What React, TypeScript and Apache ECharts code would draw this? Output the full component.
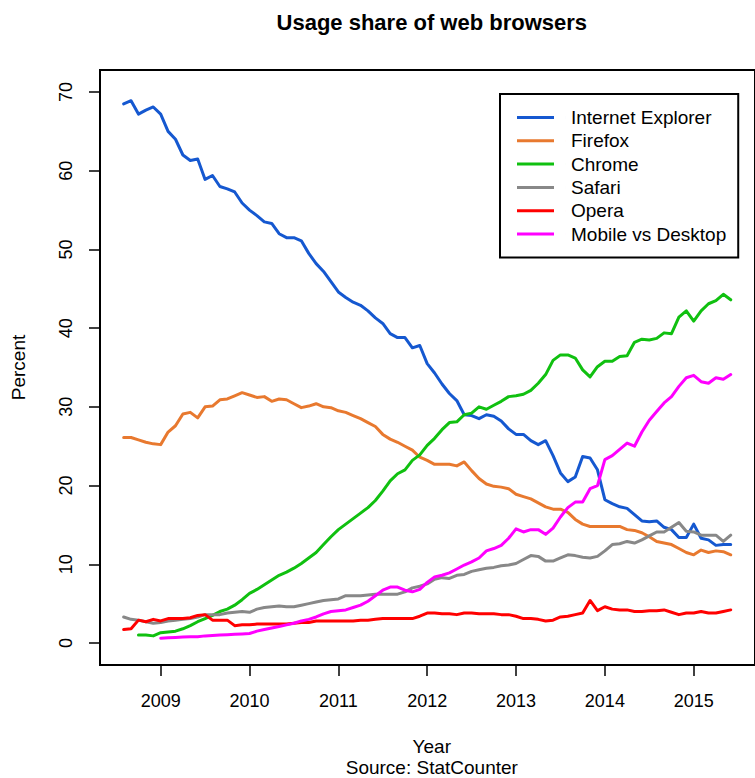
import React, { useEffect, useRef } from "react";
import * as echarts from "echarts";

// Monthly values, first point = July 2008
const startYear = 2008 + 7 / 12;
const yearTicks = [2009, 2010, 2011, 2012, 2013, 2014, 2015];
const percentTicks = [0, 10, 20, 30, 40, 50, 60, 70];

const seriesNames = ["Internet Explorer", "Firefox", "Chrome", "Safari", "Opera", "Mobile vs Desktop"];
const seriesColors = ["#1558d0", "#e8792f", "#10c010", "#888888", "#ff0000", "#ff00ff"];

const ie = [
  68.5, 68.9, 67.2, 67.7, 68.1, 67.2, 65.0, 64.0, 62.0, 61.3, 61.5, 58.9, 59.4, 58.0, 57.7, 57.3,
  55.9, 55.0, 54.3, 53.5, 53.3, 52.0, 51.5, 51.5, 51.1, 49.5, 48.2, 47.2, 45.9, 44.6, 43.9, 43.3,
  42.9, 42.2, 41.3, 40.6, 39.3, 38.8, 38.8, 37.5, 37.8, 35.5, 34.3, 32.9, 31.7, 30.8, 29.0, 28.9,
  28.5, 29.0, 28.8, 28.2, 27.2, 26.5, 26.5, 25.7, 25.2, 25.7, 23.8, 21.6, 20.5, 21.1, 23.7, 23.5,
  22.0, 18.2, 17.7, 17.3, 17.1, 16.3, 15.5, 15.4, 15.5, 14.7, 14.4, 13.4, 13.4, 15.1, 13.3, 13.1,
  12.4, 12.5, 12.5,
];
const firefox = [
  26.1, 26.1, 25.8, 25.5, 25.3, 25.2, 26.8, 27.6, 29.1, 29.3, 28.6, 30.0, 30.1, 30.9, 31.0, 31.4,
  31.8, 31.5, 31.2, 31.3, 30.7, 31.0, 30.9, 30.4, 29.9, 30.1, 30.4, 30.0, 29.9, 29.5, 29.3, 28.9,
  28.5, 28.0, 27.5, 26.5, 25.9, 25.5, 25.0, 24.5, 23.6, 23.2, 22.7, 22.7, 22.7, 22.5, 23.0, 21.9,
  20.9, 20.2, 19.9, 19.8, 19.6, 18.9, 18.6, 18.3, 17.8, 17.3, 17.0, 17.0, 16.6, 15.7, 15.1, 14.8,
  14.8, 14.8, 14.8, 14.8, 14.4, 14.3, 14.0, 13.5, 12.9, 12.7, 12.5, 12.0, 11.5, 11.2, 11.8, 11.5,
  11.7, 11.6, 11.2,
];
// Chrome starts at month index 2 (September 2008)
const chromeStart = 2;
const chrome = [
  1.0, 1.0, 0.9, 1.3, 1.4, 1.5, 1.8, 2.2, 2.7, 3.1, 3.5, 4.0, 4.3, 4.8, 5.5, 6.3,
  6.8, 7.4, 8.0, 8.6, 9.0, 9.5, 10.1, 10.8, 11.5, 12.5, 13.5, 14.4, 15.1, 15.8, 16.5, 17.2,
  18.1, 19.3, 20.6, 21.5, 22.0, 23.2, 23.9, 25.1, 26.0, 27.1, 28.0, 28.1, 29.0, 29.2, 30.0, 29.7,
  30.2, 30.7, 31.3, 31.4, 31.6, 32.1, 33.0, 34.1, 35.9, 36.6, 36.6, 36.2, 34.7, 33.8, 35.1, 35.8,
  35.8, 36.4, 36.5, 38.2, 38.6, 38.5, 38.7, 39.4, 39.3, 41.4, 42.2, 40.9, 42.2, 43.1, 43.5, 44.3,
  43.6,
];
const safari = [
  3.3, 3.0, 2.9, 2.7, 2.5, 2.6, 2.8, 2.9, 3.0, 3.1, 3.3, 3.6, 3.6, 3.6, 3.8, 3.9,
  4.0, 3.9, 4.3, 4.5, 4.6, 4.7, 4.6, 4.6, 4.8, 5.0, 5.2, 5.4, 5.5, 5.6, 6.0, 6.0,
  6.0, 6.1, 6.2, 6.2, 6.2, 6.2, 6.5, 7.0, 7.2, 7.5, 8.1, 8.3, 8.2, 8.6, 8.7, 9.1,
  9.3, 9.5, 9.6, 9.8, 9.9, 10.1, 10.6, 11.1, 11.0, 10.4, 10.4, 10.8, 11.2, 11.1, 10.9, 10.8,
  11.0, 11.7, 12.5, 12.6, 12.9, 12.7, 13.1, 13.6, 14.1, 14.1, 14.7, 15.3, 14.2, 14.1, 13.7, 13.7,
  13.7, 12.9, 13.7,
];
const opera = [
  1.7, 1.8, 2.9, 2.7, 3.0, 2.8, 3.1, 3.1, 3.1, 3.2, 3.5, 3.6, 2.9, 2.9, 2.9, 2.2,
  2.3, 2.3, 2.4, 2.4, 2.4, 2.4, 2.4, 2.5, 2.6, 2.6, 2.8, 2.8, 2.8, 2.8, 2.8, 2.8,
  2.9, 2.9, 3.0, 3.1, 3.1, 3.1, 3.1, 3.1, 3.4, 3.8, 3.8, 3.7, 3.7, 3.6, 3.8, 3.8,
  3.7, 3.7, 3.7, 3.6, 3.6, 3.4, 3.1, 3.1, 3.0, 2.8, 2.9, 3.3, 3.4, 3.6, 3.8, 5.4,
  4.1, 4.6, 4.3, 4.2, 4.2, 4.0, 4.0, 4.1, 4.1, 4.2, 3.9, 3.6, 3.8, 3.8, 4.0, 3.8,
  3.8, 4.0, 4.2,
];
// Mobile starts at month index 5 (December 2008)
const mobileStart = 5;
const mobile = [
  0.6, 0.65, 0.7, 0.75, 0.8, 0.8, 0.9, 0.95, 1.0, 1.05, 1.1, 1.15, 1.2,
  1.5, 1.7, 1.9, 2.1, 2.3, 2.5, 2.8, 3.0, 3.3, 3.7, 4.0, 4.1, 4.2, 4.5, 4.8,
  5.3, 6.0, 6.7, 7.1, 7.1, 6.7, 6.5, 6.8, 7.7, 8.4, 8.6, 8.9, 9.4, 9.9, 10.3,
  10.8, 11.7, 12.0, 12.4, 13.3, 14.5, 14.1, 14.4, 14.4, 13.8, 14.6, 16.0, 17.2, 17.9,
  17.9, 19.6, 20.0, 23.3, 23.8, 24.6, 25.4, 25.0, 26.8, 28.3, 29.4, 30.5, 31.3, 32.6,
  33.7, 34.0, 33.2, 33.0, 33.7, 33.5, 34.1,
];

const seriesValues = [ie, firefox, chrome, safari, opera, mobile];
const seriesStarts = [0, 0, chromeStart, 0, 0, mobileStart];

const FONT = "Liberation Sans, Arial, Helvetica, sans-serif";

export default function App() {
  const ref = useRef<HTMLDivElement>(null);

  useEffect(() => {
    if (!ref.current) return;
    const chart = echarts.init(ref.current, null, { renderer: "svg" });

    const series = seriesNames.map((name, k) => ({
      name,
      type: "line",
      showSymbol: false,
      symbol: "none",
      data: seriesValues[k].map((v, i) => [startYear + (seriesStarts[k] + i) / 12, v]),
      lineStyle: { color: seriesColors[k], width: 3, cap: "round", join: "round" },
      itemStyle: { color: seriesColors[k] },
      emphasis: { disabled: true },
    }));

    const gridLeft = 100;
    const gridTop = 70;
    const gridWidth = 663.6;
    const gridHeight = 595;
    const cx = gridLeft + gridWidth / 2;

    chart.setOption({
      animation: false,
      backgroundColor: "#ffffff",
      textStyle: { fontFamily: FONT },
      grid: {
        left: gridLeft,
        top: gridTop,
        width: gridWidth,
        height: gridHeight,
        show: true,
        borderColor: "#000",
        borderWidth: 2,
        backgroundColor: "transparent",
      },
      xAxis: {
        type: "value",
        position: "bottom",
        min: 2008.317,
        max: 2015.69,
        splitLine: { show: false },
        axisLine: { show: false, onZero: false },
        axisTick: {
          show: true,
          inside: false,
          length: 11,
          customValues: yearTicks,
          lineStyle: { color: "#000", width: 1.5 },
        },
        axisLabel: {
          customValues: yearTicks,
          margin: 27,
          color: "#000",
          fontSize: 18,
          fontFamily: FONT,
          formatter: (v: number) => String(Math.round(v)),
        },
      },
      yAxis: {
        type: "value",
        position: "left",
        min: -2.8,
        max: 72.8,
        splitLine: { show: false },
        axisLine: { show: false, onZero: false },
        axisTick: {
          show: true,
          inside: false,
          length: 11,
          customValues: percentTicks,
          lineStyle: { color: "#000", width: 1.5 },
        },
        axisLabel: {
          customValues: percentTicks,
          rotate: 90,
          margin: 25,
          color: "#000",
          fontSize: 18,
          fontFamily: FONT,
          formatter: (v: number) => String(Math.round(v)),
        },
      },
      legend: {
        orient: "vertical",
        left: 500,
        top: 94,
        padding: [14, 12, 14, 17],
        itemGap: 4.3,
        itemWidth: 49,
        itemHeight: 3,
        icon: "path://M0,0H37V3H0Z M48.99,0H49V3H48.99Z",
        borderColor: "#000",
        borderWidth: 2,
        borderRadius: 0,
        backgroundColor: "#fff",
        selectedMode: false,
        textStyle: { color: "#000", fontSize: 19, lineHeight: 19, fontFamily: FONT },
        data: seriesNames,
      },
      graphic: [
        {
          type: "text",
          x: cx,
          y: 22,
          style: {
            text: "Usage share of web browsers",
            fill: "#000",
            font: `bold 22px ${FONT}`,
            textAlign: "center",
            textVerticalAlign: "middle",
          },
        },
        {
          type: "text",
          x: 18,
          y: 367.5,
          rotation: Math.PI / 2,
          style: {
            text: "Percent",
            fill: "#000",
            font: `19px ${FONT}`,
            textAlign: "center",
            textVerticalAlign: "middle",
          },
        },
        {
          type: "text",
          x: cx,
          y: 746.5,
          style: {
            text: "Year",
            fill: "#000",
            font: `19px ${FONT}`,
            textAlign: "center",
            textVerticalAlign: "middle",
          },
        },
        {
          type: "text",
          x: cx,
          y: 767.5,
          style: {
            text: "Source: StatCounter",
            fill: "#000",
            font: `19px ${FONT}`,
            textAlign: "center",
            textVerticalAlign: "middle",
          },
        },
      ],
      series,
    });

    return () => chart.dispose();
  }, []);

  return (
    <div
      ref={ref}
      style={{ position: "absolute", left: 0, top: 0, width: 755, height: 778 }}
    />
  );
}
